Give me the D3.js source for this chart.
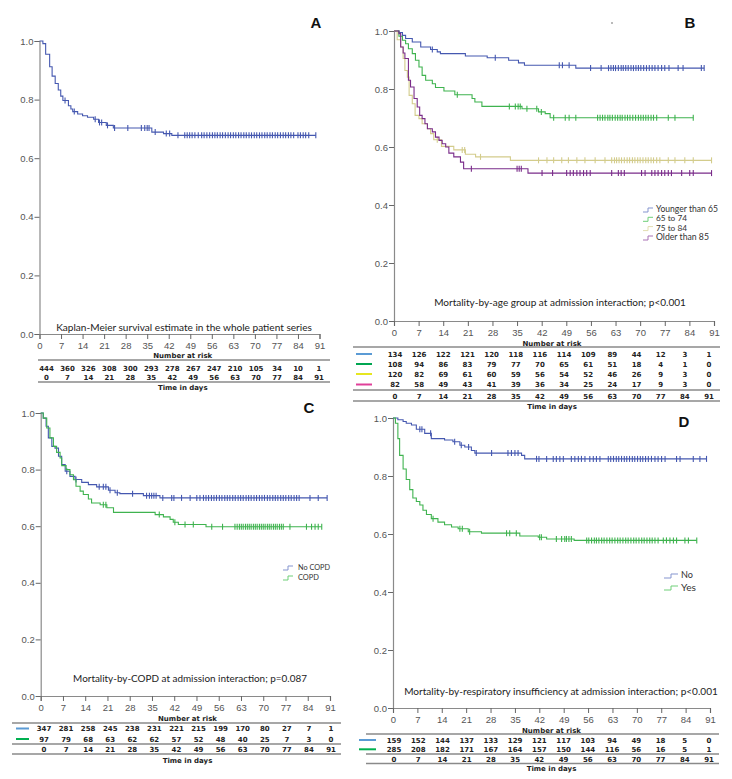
<!DOCTYPE html>
<html><head><meta charset="utf-8">
<script src="https://cdn.jsdelivr.net/npm/d3@7"></script>
<style>body{margin:0;background:#fff}svg{display:block}</style>
</head><body>
<svg id="chart" width="732" height="779"></svg>
<script>
// ---------- shared ----------
const days = [0,7,14,21,28,35,42,49,56,63,70,77,84,91];
const survTicks = [0,0.2,0.4,0.6,0.8,1.0];

// ---------- Panel A : whole series ----------
const aEvents = [[1.1,0.991],[2,0.955],[3.3,0.912],[4.1,0.880],[5.1,0.855],[6.1,0.833],[6.9,0.812],[7.6,0.797],[9.4,0.779],[10.2,0.768],[10.8,0.759],[12.4,0.751],[14,0.745],[15.6,0.740],[17.6,0.733],[19.2,0.722],[21.7,0.712],[24,0.703],[36.5,0.689],[40.3,0.684],[43,0.678]];
const aCensor = [8.3,11.3,18.1,19.5,20.2,22.1,24.4,28.7,33.1,34.2,35,35.6,37.6,41.2,42.3,45,47.2,48,48.8,49.6,50.5,51.6,52.7,53.5,54.4,55.3,56.2,57,57.8,58.7,59.5,60.4,61.3,62.1,63,63.8,64.7,65.5,66.4,67.2,68.1,68.9,69.8,70.6,71.5,72.3,73.2,74,74.9,75.7,76.6,77.4,78.3,79.2,80,80.9,81.7,82.6,84,84.8,85.7,86.5,87.5,89.8];
const aRisk = [444,360,326,308,300,293,278,267,247,210,105,34,10,1];

// ---------- Panel B : age groups ----------
const bGroups = ["Younger than 65","65 to 74","75 to 84","Older than 85"];
const bYoungEvents = [[1.4,0.995],[2.4,0.985],[3.3,0.974],[5.2,0.962],[7.6,0.945],[10.4,0.936],[12.3,0.928],[13.2,0.922],[20.3,0.914],[26.5,0.908],[32.6,0.899],[35.4,0.890],[37.1,0.882],[51.7,0.872]];
const bYoungCensor = [10.9,28.8,47,47.9,49.8,55.9,58.9,61,61.7,62.4,63,63.8,64.6,65.2,65.9,66.6,67.4,68.1,68.8,69.5,70.2,71,71.8,72.6,73.4,74.2,75.1,76.1,77,78.2,80.8,82.2,87.4,88.2];
const b6574Events = [[1.4,0.982],[2.4,0.968],[3.3,0.956],[4.1,0.939],[5.2,0.922],[6.1,0.899],[7.1,0.876],[8,0.847],[9,0.830],[10.9,0.818],[11.8,0.805],[14.2,0.793],[17.3,0.780],[22.2,0.767],[23,0.755],[25,0.740],[36.4,0.732],[41.1,0.721],[43,0.715],[44.4,0.701]];
const b6574Censor = [18,32.8,34.5,35.3,35.9,37.8,40.6,41.9,45.4,48.7,49.8,51.7,57.9,58.6,59.3,60,60.8,61.4,62.1,62.9,63.6,64.3,64.9,65.7,66.4,67.1,67.9,68.7,69.5,70.2,70.9,71.6,72.3,73.1,73.8,74.7,78,79.9,85.1];
const b7584Events = [[0.9,0.970],[1.9,0.945],[2.6,0.905],[3.1,0.864],[3.8,0.841],[4.3,0.778],[5.2,0.749],[6,0.709],[7.1,0.698],[8,0.680],[9.5,0.663],[10.4,0.646],[11.3,0.625],[13.5,0.602],[17,0.590],[20.3,0.575],[23.2,0.566],[33.1,0.554]];
const b7584Censor = [12.3,19.4,20.1,24.6,41.1,43.5,45.4,47.7,49.6,52,54.3,57.2,60,61.9,62.7,63.3,64,64.7,65.5,66.3,67,67.8,68.5,69.3,70,70.8,71.6,72.3,73.1,73.8,74.7,75.6,78,79.9,82.7,85.1,90.3];
const bOldEvents = [[1.4,0.991],[1.9,0.945],[2.6,0.924],[3.1,0.905],[4.1,0.830],[4.7,0.807],[5.7,0.767],[6.6,0.738],[7.3,0.709],[8,0.698],[8.8,0.680],[9.5,0.663],[10.9,0.652],[11.8,0.634],[12.8,0.623],[13.7,0.611],[14.7,0.600],[15.6,0.579],[17,0.566],[18.9,0.548],[19.8,0.525],[38.1,0.510]];
const bOldCensor = [22,35,35.6,36.2,42.1,45.1,49.1,50.1,51,52,52.9,53.9,54.8,55.8,61.9,63.8,64.6,65.5,70.4,71.4,73.3,74.2,75.1,76.1,77,78,78.9,81.8,84.1,85.1,90.3];
const bRiskYoung = [134,126,122,121,120,118,116,114,109,89,44,12,3,1];
const bRisk6574 = [108,94,86,83,79,77,70,65,61,51,18,4,1,0];
const bRisk7584 = [120,82,69,61,60,59,56,54,52,46,26,9,3,0];
const bRiskOld = [82,58,49,43,41,39,36,34,25,24,17,9,3,0];

// ---------- Panel C : COPD ----------
const cGroups = ["No COPD","COPD"];
const cNoEvents = [[0.8,0.982],[1.7,0.953],[2.4,0.912],[3.5,0.882],[4.5,0.876],[5.6,0.847],[6.6,0.818],[7.7,0.794],[9.2,0.776],[10.8,0.765],[12.9,0.755],[15,0.747],[17.6,0.739],[21.3,0.727],[23.4,0.718],[24.9,0.715],[32.3,0.708],[37.5,0.700]];
const cNoCensor = [8.2,11.1,18.4,19.7,20.5,21.8,24.1,28.9,33.3,34.2,34.9,35.6,36.3,38.4,41.2,41.9,44.3,47,49.1,50.1,51.2,52,52.8,53.7,54.5,55.3,56.2,57,57.9,58.7,59.5,60.4,61.2,62.1,62.9,63.7,64.6,65.4,66.2,67.1,67.9,68.8,69.6,70.4,71.3,72.1,73,73.8,74.6,75.5,76.3,77.1,78,78.8,79.7,80.5,81.3,84.7,87.3,90.1];
const cYesEvents = [[0.8,0.982],[1.9,0.947],[2.9,0.912],[4,0.882],[5,0.861],[6.1,0.841],[6.6,0.814],[8,0.800],[9.2,0.782],[10.3,0.764],[11.1,0.741],[12.4,0.724],[13.4,0.712],[15,0.696],[16,0.682],[18.7,0.676],[20.8,0.665],[22.9,0.649],[36,0.641],[38.6,0.633],[40.7,0.624],[41.7,0.614],[43.3,0.606],[52,0.598]];
const cYesCensor = [19.7,20.5,37.3,42.2,45.4,48,53.8,57.2,61.1,61.8,62.5,63.1,63.7,64.4,65,65.6,66.2,66.9,67.5,68.1,68.8,69.4,70,70.6,71.3,71.9,72.5,73.2,73.8,74.4,75.1,75.7,76.3,78.4,83.6,85.2,86.3,87.3,88.4];
const cRiskNo = [347,281,258,245,238,231,221,215,199,170,80,27,7,1];
const cRiskYes = [97,79,68,63,62,62,57,52,48,40,25,7,3,0];

// ---------- Panel D : respiratory insufficiency ----------
const dGroups = ["No","Yes"];
const dNoEvents = [[1.4,0.994],[2.9,0.988],[3.8,0.982],[5.3,0.976],[6.7,0.961],[9.1,0.947],[11,0.929],[14.8,0.924],[17.2,0.918],[19.2,0.906],[20.6,0.900],[22.5,0.888],[23.5,0.879],[36.9,0.871],[37.8,0.859]];
const dNoCensor = [7.7,8.3,10.8,17.7,19.6,21.7,23.9,28.3,33,34,35,35.9,41.2,41.9,44.1,46,46.9,47.9,48.9,51.2,52.2,53.2,54.1,55.1,56.5,57.5,58.4,59.4,61.8,62.5,63.3,64.1,64.8,65.6,66.4,67.1,67.9,68.7,69.4,70.2,71,71.7,72.5,73.3,74.2,75.2,76.1,77.1,78.1,81.4,82.4,86.2,88.1,90];
const dYesEvents = [[0.7,0.982],[1.4,0.929],[1.9,0.871],[2.9,0.824],[3.8,0.788],[4.8,0.753],[5.7,0.724],[6.7,0.712],[7.7,0.700],[8.6,0.682],[9.6,0.667],[11,0.653],[12.9,0.641],[14.8,0.632],[16.8,0.624],[18.7,0.618],[21.6,0.608],[25.4,0.603],[36.4,0.593],[41.7,0.589],[44.1,0.583],[52,0.578]];
const dYesCensor = [11.5,19.2,19.9,22,32.6,33.5,35.4,42.1,42.6,46.9,48.4,49.3,49.8,50.5,51.2,55.6,56.2,57,57.8,58.4,59.1,59.9,60.6,61.4,62.2,62.9,63.7,64.5,65.2,66,66.8,67.5,68.3,69.1,69.8,70.6,71.4,72.1,72.9,73.7,74.4,75.2,76.1,77.6,78.5,79.5,80.5,81.4,83.8,84.8,87.2];
const dRiskNo = [159,152,144,137,133,129,121,117,103,94,49,18,5,0];
const dRiskYes = [285,208,182,171,167,164,157,150,144,116,56,16,5,1];

// ---------- styles ----------
const BLUE = "#4558b0", GREEN = "#3fb34f", TAN = "#d3cc8c", PURPLE = "#7a2c8a";
const svg = d3.select("#chart");

function survAt(events, t){ let s = 1; for (const e of events) { if (e[0] <= t) s = e[1]; } return s; }

// scale a text's font size so that its natural width equals the target width
function fit(sel, base, target){
  sel.style("font-size", base + "px");
  const w = sel.node().getComputedTextLength();
  if (w > 0) sel.style("font-size", (base * target / w).toFixed(2) + "px");
  return sel;
}

function panel(cfg){
  const g = svg.append("g");
  const x = d3.scaleLinear().domain([0,91]).range([cfg.x0, cfg.x1]);
  const y = d3.scaleLinear().domain([0,1]).range([cfg.yb, cfg.yt]);
  const ya = g.append("g").attr("transform",`translate(${cfg.x0},0)`)
    .call(d3.axisLeft(y).tickValues(survTicks).tickFormat(d3.format(".1f")).tickSize(5).tickPadding(1));
  const xa = g.append("g").attr("transform",`translate(0,${cfg.yb})`)
    .call(d3.axisBottom(x).tickValues(days).tickSize(5).tickPadding(3));
  [ya, xa].forEach(a => {
    a.select(".domain").attr("stroke","#8a8a8a").attr("stroke-width",1.2);
    a.selectAll(".tick line").attr("stroke","#666").attr("stroke-width",1);
    a.selectAll("text").attr("fill","#555").style("font-family","'Liberation Sans', Arial, sans-serif").style("font-size","9.5px");
  });
  const line = d3.line().x(d => x(d[0])).y(d => y(d[1])).curve(d3.curveStepAfter);
  cfg.series.forEach(s => {
    const end = d3.max(s.censor);
    const pts = [[0,1]].concat(s.events).concat([[end, s.events[s.events.length-1][1]]]);
    g.append("path").attr("d", line(pts)).attr("fill","none").attr("stroke", s.color).attr("stroke-width",1.1);
    g.selectAll(null).data(s.censor).enter().append("line")
      .attr("x1", d => x(d)).attr("x2", d => x(d))
      .attr("y1", d => y(survAt(s.events,d)) - 3).attr("y2", d => y(survAt(s.events,d)) + 3)
      .attr("stroke", s.color).attr("stroke-width",1.1);
  });
  g.append("text").attr("x", cfg.lab[0]).attr("y", cfg.lab[1]).attr("text-anchor","middle")
    .style("font-family","'Liberation Sans', Arial, sans-serif").style("font-weight","bold").style("font-size","15px")
    .attr("fill","#111").text(cfg.letter);
  const cap = g.append("text").attr("x", cfg.cap[0]).attr("y", cfg.cap[1]).attr("text-anchor","middle")
    .style("font-family","Lato, 'Open Sans', sans-serif").attr("fill","#222").text(cfg.caption);
  fit(cap, 11.5, cfg.cap[2]);
  if (cfg.legend) {
    const L = cfg.legend;
    L.names.forEach((n,i) => {
      const yy = L.ys[i];
      g.append("path").attr("d", `M${L.ix},${yy+2}h${L.iw/2}v-4h${L.iw/2}`)
        .attr("fill","none").attr("stroke", L.colors[i]).attr("stroke-width",1);
      const t = g.append("text").attr("x", L.tx).attr("y", yy).attr("dominant-baseline","middle")
        .style("font-family","Lato, 'Open Sans', sans-serif").attr("fill","#333").text(n);
      fit(t, L.fs, L.widths[i]);
    });
  }
  const T = cfg.table;
  const col = d3.scalePoint().domain(days).range([T.c0, T.c1]);
  const mid = (T.c0 + T.c1) / 2;
  const tf = sel => sel.style("font-family","'DejaVu Sans', Verdana, sans-serif").style("font-weight","bold")
    .style("font-size","7px").attr("fill","#222").attr("text-anchor","middle");
  g.append("text").attr("x", mid).attr("y", T.header + 2.5).call(tf).text("Number at risk");
  T.lines.forEach(ly => g.append("line").attr("x1", T.l0).attr("x2", T.l1).attr("y1", ly).attr("y2", ly)
    .attr("stroke","#8a8a8a").attr("stroke-width",1.3));
  T.rows.forEach(r => {
    if (r.color) g.append("line").attr("x1", T.m0).attr("x2", T.m1).attr("y1", r.y).attr("y2", r.y)
      .attr("stroke", r.color).attr("stroke-width",2);
    g.selectAll(null).data(r.values).enter().append("text")
      .attr("x", (d,i) => col(days[i])).attr("y", r.y + 2.5).call(tf).text(d => d);
  });
  g.selectAll(null).data(days).enter().append("text")
    .attr("x", d => col(d)).attr("y", T.timeRow + 2.5).call(tf).text(d => d);
  g.append("text").attr("x", mid).attr("y", T.timeLabel + 2.5).call(tf).text("Time in days");
}

panel({
  letter:"A", lab:[316,28], x0:39.5, x1:319.5, yt:41, yb:334,
  caption:"Kaplan-Meier survival estimate in the whole patient series", cap:[184,331,256],
  series:[{events:aEvents, censor:aCensor, color:BLUE}],
  table:{c0:46.5,c1:319,header:355,lines:[360,382],l0:38,l1:330,m0:0,m1:0,
    rows:[{values:aRisk, y:368}], timeRow:377, timeLabel:387}
});
panel({
  letter:"B", lab:[690,28], x0:394, x1:714, yt:31, yb:321,
  caption:"Mortality-by-age group at admission interaction; p<0.001", cap:[560,306,252],
  series:[{events:bYoungEvents,censor:bYoungCensor,color:BLUE},{events:b6574Events,censor:b6574Censor,color:GREEN},
          {events:b7584Events,censor:b7584Censor,color:TAN},{events:bOldEvents,censor:bOldCensor,color:PURPLE}],
  legend:{names:bGroups, ys:[210,219.3,228.6,238], ix:643, iw:10, tx:656, fs:10, widths:[62,31,31,53],
    colors:["#8595cf","#6fcf78","#e2ddb0","#a973b5"]},
  table:{c0:395,c1:709,header:343,lines:[347,390,401],l0:353,l1:720,m0:356,m1:372,
    rows:[{values:bRiskYoung,y:354,color:"#5b9bd5"},{values:bRisk6574,y:364,color:"#00a651"},
          {values:bRisk7584,y:374,color:"#e6e620"},{values:bRiskOld,y:384.5,color:"#e0409a"}],
    timeRow:396, timeLabel:406}
});
// tiny stray mark present in the source figure
svg.append("rect").attr("x",611).attr("y",22.5).attr("width",2).attr("height",1).attr("fill","#777");
panel({
  letter:"C", lab:[309,413], x0:40.7, x1:330, yt:413, yb:696,
  caption:"Mortality-by-COPD at admission interaction; p=0.087", cap:[190,682,234],
  series:[{events:cNoEvents,censor:cNoCensor,color:BLUE},{events:cYesEvents,censor:cYesCensor,color:GREEN}],
  legend:{names:cGroups, ys:[568,578], ix:283, iw:10, tx:298, fs:10, widths:[32,21],
    colors:["#8595cf","#6fcf78"]},
  table:{c0:44,c1:331,header:718,lines:[723,744,754],l0:12,l1:341,m0:16,m1:29,
    rows:[{values:cRiskNo,y:728.5,color:"#5b9bd5"},{values:cRiskYes,y:739,color:"#00b050"}],
    timeRow:749, timeLabel:760}
});
panel({
  letter:"D", lab:[684,427], x0:393, x1:710, yt:418, yb:708,
  caption:"Mortality-by-respiratory insufficiency at admission interaction; p<0.001", cap:[561,695,314],
  series:[{events:dNoEvents,censor:dNoCensor,color:BLUE},{events:dYesEvents,censor:dYesCensor,color:GREEN}],
  legend:{names:dGroups, ys:[576,588], ix:664, iw:14, tx:681, fs:11, widths:[12,15],
    colors:["#8595cf","#6fcf78"]},
  table:{c0:394,c1:709,header:730,lines:[734,754,763.5],l0:366,l1:719,m0:359,m1:376,
    rows:[{values:dRiskNo,y:740,color:"#5b9bd5"},{values:dRiskYes,y:749.3,color:"#00b050"}],
    timeRow:759, timeLabel:768.5}
});
</script>
</body></html>
